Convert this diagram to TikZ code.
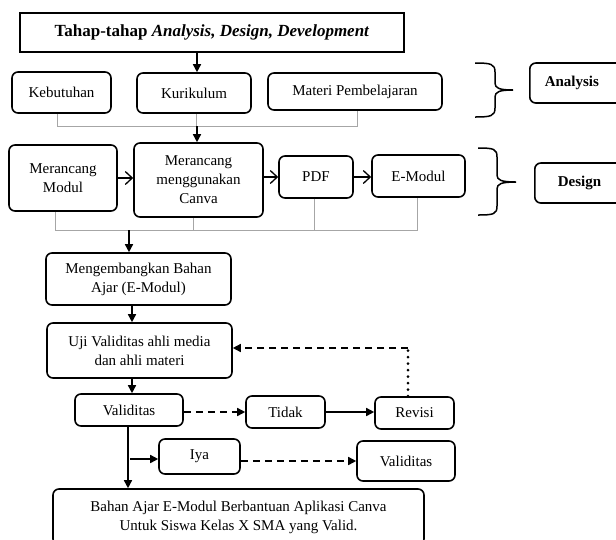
\documentclass[tikz,border=0pt]{standalone}
\usepackage{fontspec}
\setmainfont{Liberation Serif}
\usetikzlibrary{arrows.meta}
\begin{document}
\begin{tikzpicture}[x=1pt,y=-1pt,
  box/.style={draw, line width=1.6pt, rounded corners=6pt, align=center, inner sep=0pt,
              font=\fontsize{15}{19}\selectfont},
  titlebox/.style={draw, line width=1.7pt, align=center, inner sep=0pt,
              font=\fontsize{17}{20}\selectfont\bfseries},
  gline/.style={draw=gray!70, line width=0.9pt},
  arr/.style={line width=1.5pt, -{Triangle[length=8pt,width=8pt]}},
  darr/.style={line width=1.5pt, dash pattern=on 7pt off 5pt, -{Triangle[length=8pt,width=8pt]}},
  oarr/.style={line width=1.3pt, -{Straight Barb[length=7pt,width=13pt,line width=1.3pt]}},
  dotline/.style={line width=3pt, line cap=round, dash pattern=on 0pt off 6.5pt},
  brace/.style={line width=1.5pt}
]
\useasboundingbox (0,0) rectangle (616,539);

% title
\node[titlebox, minimum width=384pt, minimum height=39pt] (title) at (212,32.5)
  {Tahap-tahap \textit{Analysis, Design, Development}};

% analysis row
\node[box, minimum width=99pt, minimum height=41pt] (keb) at (61.5,92.5) {Kebutuhan};
\node[box, minimum width=114pt, minimum height=40pt] (kur) at (194,93) {Kurikulum};
\node[box, minimum width=174pt, minimum height=37pt] (mat) at (355,91.5) {Materi Pembelajaran};
\node[box, font=\fontsize{15}{19}\selectfont\bfseries, anchor=west, minimum height=40pt,
      text width=96pt, align=left, inner xsep=15pt] (ana) at (529,83) {Analysis};

% design row
\node[box, minimum width=108pt, minimum height=66pt] (mod) at (63,178) {Merancang\\Modul};
\node[box, minimum width=129pt, minimum height=74pt] (can) at (198.5,180) {Merancang\\menggunakan\\Canva};
\node[box, minimum width=74pt, minimum height=42pt] (pdf) at (316,177) {PDF};
\node[box, minimum width=93pt, minimum height=42pt] (emod) at (418.5,176) {E-Modul};
\node[box, font=\fontsize{15}{19}\selectfont\bfseries, anchor=west, minimum height=40pt,
      text width=90pt, align=left, inner xsep=23pt] (des) at (534,183) {Design};

% development
\node[box, minimum width=185pt, minimum height=52pt] (meng) at (138.5,279) {Mengembangkan Bahan\\Ajar (E-Modul)};
\node[box, minimum width=185pt, minimum height=55pt] (uji) at (139.5,350.5) {Uji Validitas ahli media\\dan ahli materi};
\node[box, minimum width=108pt, minimum height=32pt] (val) at (129,410) {Validitas};
\node[box, minimum width=79pt, minimum height=32pt] (tid) at (285.5,412) {Tidak};
\node[box, minimum width=79pt, minimum height=32pt] (rev) at (414.5,413) {Revisi};
\node[box, minimum width=81pt, minimum height=35pt] (iya) at (199.5,456.5) {Iya};
\node[box, minimum width=98pt, minimum height=40pt] (val2) at (406,461) {Validitas};
\node[box, minimum width=371pt, minimum height=56pt] (bahan) at (238.5,517) {Bahan Ajar E-Modul Berbantuan Aplikasi Canva\\Untuk Siswa Kelas X SMA yang Valid.};

% braces
\draw[brace] (475,63) .. controls (491,63) and (495,64) .. (495,72) -- (495,83)
  .. controls (495,88) and (499,90) .. (513,90)
  .. controls (499,90) and (495,92) .. (495,97) -- (495,108)
  .. controls (495,116) and (491,117) .. (475,117);
\draw[brace] (478,148) .. controls (494,148) and (497,149) .. (497,157) -- (497,175)
  .. controls (497,180) and (501,182) .. (516,182)
  .. controls (501,182) and (497,184) .. (497,189) -- (497,206)
  .. controls (497,214) and (494,215) .. (478,215);

% coordinates
\coordinate (xT) at (197,0);
\coordinate (aL) at (57,126);
\coordinate (aM) at (197,126);
\coordinate (aK) at (196,126);
\coordinate (aR) at (357,126);
\coordinate (dL) at (55,230);
\coordinate (dC) at (193,230);
\coordinate (dP) at (314,230);
\coordinate (dR) at (417,230);
\coordinate (dA) at (129,230);
\coordinate (lA) at (132,0);
\coordinate (vx) at (128,0);
\coordinate (iyaS) at (130,459);
\coordinate (rx) at (408,348);

% title -> kurikulum
\draw[arr] (title.south -| xT) -- (kur.north -| xT);

% analysis gray connectors
\draw[gline] (keb.south -| aL) -- (aL) -- (aR) -- (mat.south -| aR);
\draw[gline] (kur.south -| aK) -- (aK);
\draw[arr] (aM) -- (can.north -| aM);

% design arrows
\draw[oarr] (mod.east |- 0,178) -- (can.west |- 0,178);
\draw[oarr] (can.east |- pdf) -- (pdf.west);
\draw[oarr] (pdf.east) -- (pdf.east -| emod.west);

% design gray connectors
\draw[gline] (mod.south -| dL) -- (dL) -- (dR) -- (emod.south -| dR);
\draw[gline] (can.south -| dC) -- (dC);
\draw[gline] (pdf.south -| dP) -- (dP);
\draw[arr] (dA) -- (meng.north -| dA);

% development flow
\draw[arr] (meng.south -| lA) -- (uji.north -| lA);
\draw[arr] (uji.south -| lA) -- (val.north -| lA);
\draw[darr] (tid.west -| val.east) -- (tid.west);
\draw[arr] (tid.east) -- (tid.east -| rev.west);
\draw[dotline] (rev.north -| rx) -- (rx);
\draw[darr] (rx) -- (uji.east |- rx);
\draw[arr] (val.south -| vx) -- (bahan.north -| vx);
\draw[arr] (iyaS) -- (iya.west |- iyaS);
\draw[darr] (iya.east |- val2) -- (val2.west);
\end{tikzpicture}
\end{document}
